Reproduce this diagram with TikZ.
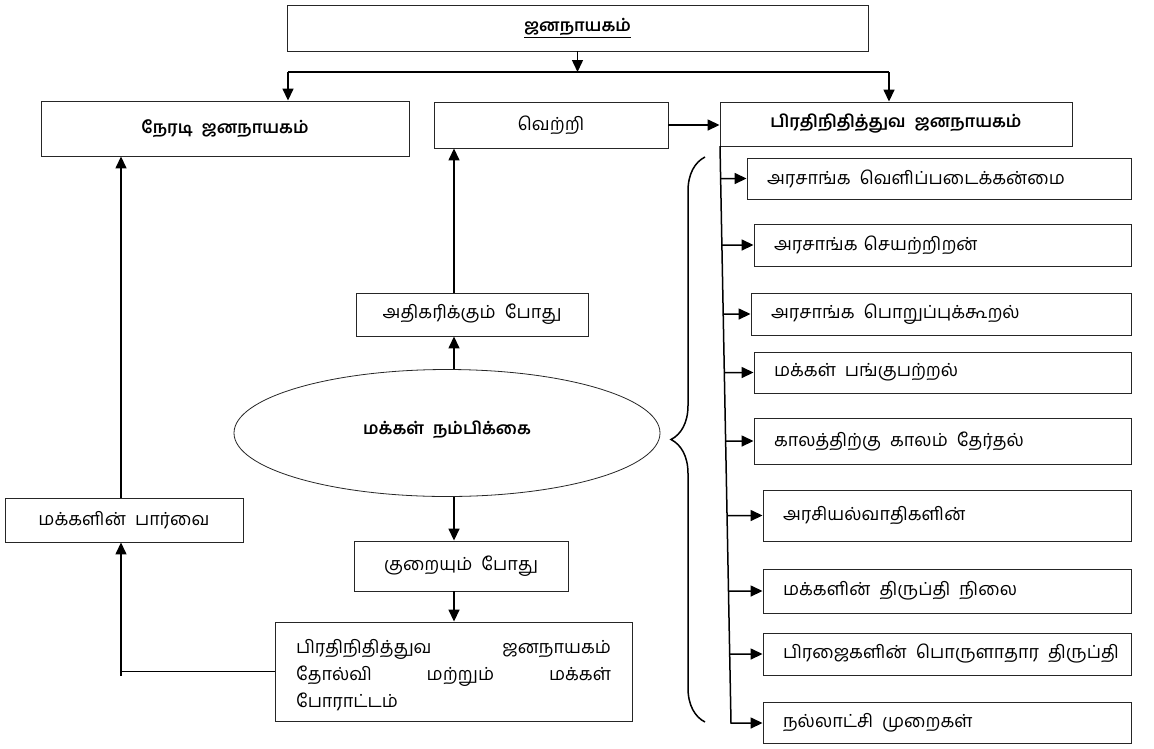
\documentclass[tikz,border=0pt]{standalone}
\usepackage{fontspec}
\setmainfont[Script=Tamil]{Hind Madurai}
\usetikzlibrary{arrows.meta,shapes.geometric,decorations.pathreplacing,intersections,calc}
\newcommand{\wsp}{\hspace{9pt}}
\begin{document}
\begin{tikzpicture}[x=1pt,y=-1pt,
  box/.style={draw=black!85, line width=0.9pt, rectangle, inner sep=0pt},
  arr/.style={line width=1.5pt, -{Triangle[length=12pt,width=11pt]}},
  ln/.style={line width=1.5pt},
  txt/.style={font=\fontsize{18}{21}\selectfont},
  hd/.style={font=\fontsize{17}{20}\selectfont\bfseries},
  lbox/.style={box, txt, inner xsep=20pt, align=left},
]
\useasboundingbox (0,0) rectangle (1154,748);

% top
\node[box, hd, minimum width=581pt, minimum height=46pt] (top) at (577.5,28) {\underline{ஜனநாயகம்}};
\node[box, hd, minimum width=368pt, minimum height=55pt] (nerady) at (225,128.5) {நேரடி\wsp ஜனநாயகம்};
\node[box, txt, minimum width=234pt, minimum height=46pt] (vetri) at (551,125) {வெற்றி};
\node[box, hd, minimum width=352pt, minimum height=44pt] (prathi) at (896,124) {பிரதிநிதித்துவ\wsp ஜனநாயகம்};

% middle column
\node[box, txt, minimum width=232pt, minimum height=43pt] (athig) at (472,314.5) {அதிகரிக்கும்\wsp போது};
\node[draw=black!85, line width=0.8pt, ellipse, inner sep=0pt, minimum width=426pt, minimum height=127pt, hd] (ell) at (447,433) {\raisebox{11pt}{மக்கள்\wsp நம்பிக்கை}};
\node[box, txt, minimum width=214pt, minimum height=50pt] (kurai) at (461,566) {குறையும்\wsp போது};
\node[box, font=\fontsize{18}{27}\selectfont, inner xsep=21pt, minimum height=99pt] (bot) at (453.5,671.5)
  {\raisebox{-4pt}[\height][\depth]{\parbox{315pt}{\makebox[315pt][l]{பிரதிநிதித்துவ\hfill ஜனநாயகம்}\\\makebox[315pt][l]{தோல்வி\hfill மற்றும்\hfill மக்கள்}\\போராட்டம்}}};
\node[box, txt, minimum width=238pt, minimum height=44pt] (parvai) at (124,520) {மக்களின்\wsp பார்வை};

% list
\node[lbox, text width=344pt, minimum height=41pt] (l1) at (939,178.5) {\mbox{அரசாங்க\wsp வெளிப்படைக்கன்மை}};
\node[lbox, text width=337pt, minimum height=42pt] (l2) at (942.5,245) {\mbox{அரசாங்க செயற்றிறன்}};
\node[lbox, text width=340pt, minimum height=42pt] (l3) at (941,314) {\mbox{அரசாங்க\wsp பொறுப்புக்கூறல்}};
\node[lbox, text width=337pt, minimum height=41pt] (l4) at (942.5,372.5) {\mbox{மக்கள்\wsp பங்குபற்றல்}};
\node[lbox, text width=337pt, minimum height=46pt] (l5) at (942.5,441) {\mbox{காலத்திற்கு\wsp காலம்\wsp தேர்தல்}};
\node[lbox, text width=328pt, minimum height=51pt] (l6) at (947,515.5) {\mbox{அரசியல்வாதிகளின்}};
\node[lbox, text width=328pt, minimum height=44pt] (l7) at (947,591) {\mbox{மக்களின்\wsp திருப்தி\wsp நிலை}};
\node[lbox, text width=328pt, minimum height=42pt] (l8) at (947,654) {\mbox{பிரஜைகளின்\wsp பொருளாதார\wsp திருப்தி}};
\node[lbox, text width=328pt, minimum height=41pt] (l9) at (947,722.5) {\mbox{நல்லாட்சி\wsp முறைகள்}};

% top connectors
\coordinate (split) at (577.5,72);
\coordinate (hl) at (288,72);
\coordinate (hr) at (889,72);
\draw[arr] (top.south) -- (split);
\draw[ln] (hl) -- (hr);
\draw[arr] (hl) -- (hl |- nerady.north);
\draw[arr] (hr) -- (hr |- prathi.north);
\draw[arr] (vetri.east) -- (vetri.east -| prathi.west);

% middle connectors
\coordinate (cx) at (454,0);
\draw[arr] (cx |- ell.north) -- (cx |- athig.south);
\draw[arr] (cx |- athig.north) -- (cx |- vetri.south);
\draw[arr] (cx |- ell.south) -- (cx |- kurai.north);
\draw[arr] (cx |- kurai.south) -- (cx |- bot.north);

% left connectors
\coordinate (lc) at (121,676);
\draw[ln] (bot.west) -- (bot.west -| lc);
\draw[arr] (lc) -- (lc |- parvai.south);
\draw[arr] (lc |- parvai.north) -- (lc |- nerady.south);

% right vertical line and arrows
\coordinate (vtop) at (720,146);
\coordinate (vbot) at (731,723);
\path[name path=vl] (vtop) -- (vbot);
\draw[arr] (vtop) -- (vbot) -- (vbot -| l9.west);
\foreach \i in {1,...,8} {
  \path[name path=h\i] (l\i.west) -- ++(-60pt,0);
  \draw[arr, name intersections={of=vl and h\i}] (intersection-1) -- (l\i.west);
}

% brace
\draw[line width=1.5pt, decorate, decoration={brace, amplitude=34pt}] (705,722) -- (705,157);
\end{tikzpicture}
\end{document}
